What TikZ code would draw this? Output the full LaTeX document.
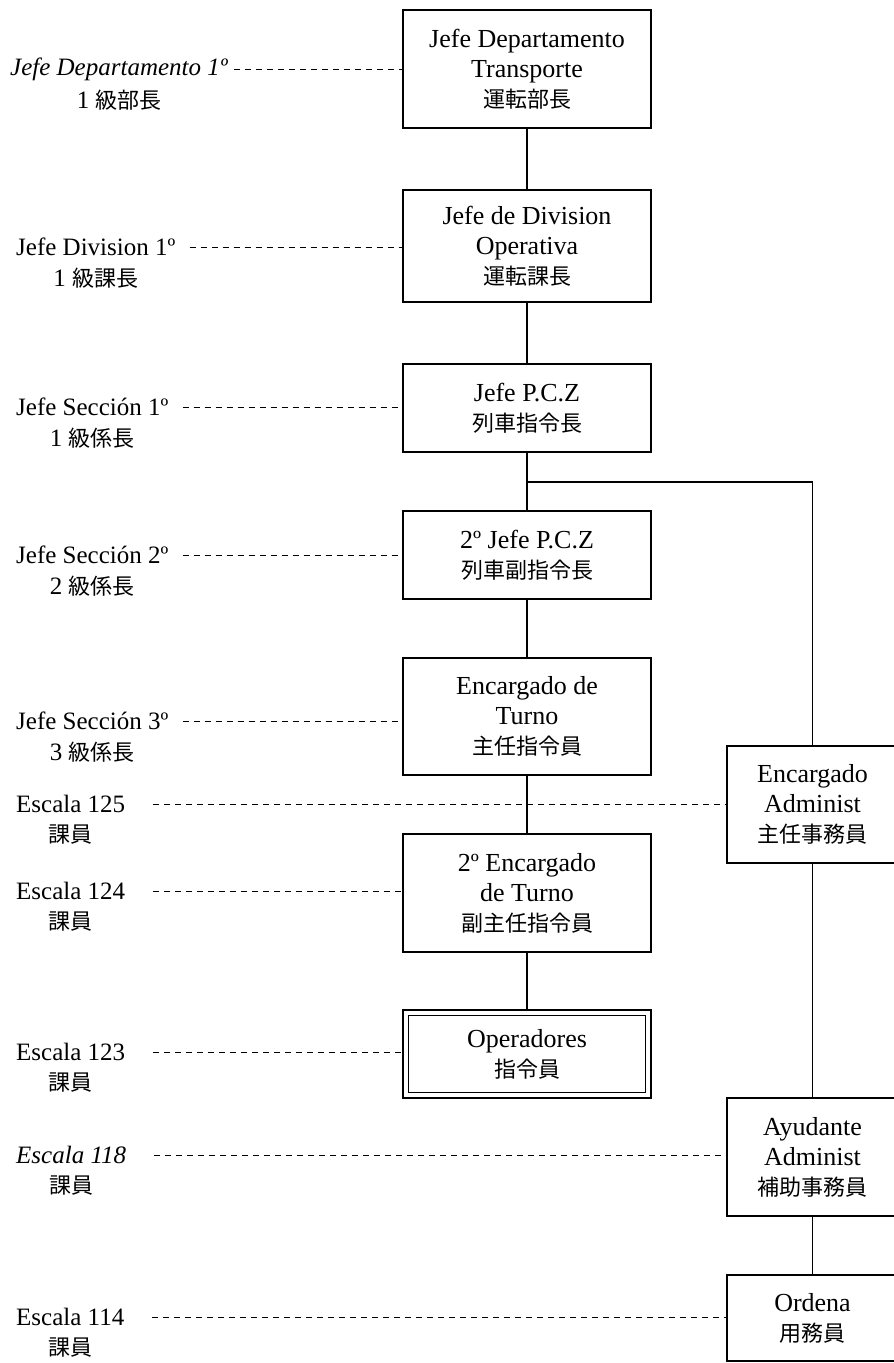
\documentclass[tikz,border=0pt]{standalone}
\usepackage{fontspec}
\setmainfont{Liberation Serif}
\newfontfamily\cjk{Noto Sans CJK JP}
\newcommand{\jp}[1]{{\cjk\fontsize{22}{30}\selectfont #1}}
\begin{document}
\begin{tikzpicture}[x=1pt,y=-1pt,
  box/.style={draw, line width=1.3pt, align=center, inner sep=0pt,
    font=\fontsize{26}{30}\selectfont, minimum width=248pt},
  sbox/.style={box, minimum width=171pt},
  lbl/.style={inner sep=0pt, font=\fontsize{25}{30}\selectfont},
  dline/.style={line width=0.9pt, dash pattern=on 6pt off 5pt},
  conn/.style={line width=1.3pt}]
\clip (0,0) rectangle (894,1363);
\fill[white] (0,0) rectangle (894,1363);
% main column
\node[box, minimum height=118pt] (b1) at (527,69) {Jefe Departamento\\Transporte\\\jp{運転部長}};
\node[box, minimum height=112pt] (b2) at (527,246) {Jefe de Division\\Operativa\\\jp{運転課長}};
\node[box, minimum height=88pt] (b3) at (527,408) {Jefe P.C.Z\\\jp{列車指令長}};
\node[box, minimum height=88pt] (b4) at (527,555) {2º Jefe P.C.Z\\\jp{列車副指令長}};
\node[box, minimum height=117pt] (b5) at (527,716.5) {Encargado de\\Turno\\\jp{主任指令員}};
\node[box, minimum height=118pt] (b6) at (527,893) {2º Encargado\\de Turno\\\jp{副主任指令員}};
\node[box, minimum height=88pt] (b7) at (527,1054) {Operadores\\\jp{指令員}};
\draw[line width=1.3pt] ([shift={(6,6)}]b7.north west) rectangle ([shift={(-6,-6)}]b7.south east);
% right column
\node[sbox, minimum height=117pt] (b8) at (812.5,804.5) {Encargado\\Administ\\\jp{主任事務員}};
\node[sbox, minimum height=118pt] (b9) at (812.5,1157) {Ayudante\\Administ\\\jp{補助事務員}};
\node[sbox, minimum height=86pt] (b10) at (812.5,1318) {Ordena\\\jp{用務員}};
% connectors
\draw[conn] (b1) -- (b2);
\draw[conn] (b2) -- (b3);
\draw[conn] (b3) -- (b4);
\draw[conn] (b4) -- (b5);
\draw[conn] (b5) -- (b6);
\draw[conn] (b6) -- (b7);
\coordinate (br) at (527,482);
\draw[conn] (br) -| (b8.north);
\draw[conn] (b8) -- (b9);
\draw[conn] (b9) -- (b10);
% labels
\node[lbl, anchor=west] (l1) at (10,69) {\textit{Jefe Departamento 1º}};
\node[lbl] (l1b) at ([yshift=-31pt]l1.center) {1 \jp{級部長}};
\node[lbl, anchor=west] (l2) at (16,247) {Jefe Division 1º};
\node[lbl] (l2b) at ([yshift=-31pt]l2.center) {1 \jp{級課長}};
\node[lbl, anchor=west] (l3) at (16,407) {Jefe Sección 1º};
\node[lbl] (l3b) at ([yshift=-31pt]l3.center) {1 \jp{級係長}};
\node[lbl, anchor=west] (l4) at (16,555) {Jefe Sección 2º};
\node[lbl] (l4b) at ([yshift=-31pt]l4.center) {2 \jp{級係長}};
\node[lbl, anchor=west] (l5) at (16,721) {Jefe Sección 3º};
\node[lbl] (l5b) at ([yshift=-31pt]l5.center) {3 \jp{級係長}};
\node[lbl, anchor=west] (l6) at (16,804) {Escala 125};
\node[lbl] (l6b) at ([yshift=-31pt]l6.center) {\jp{課員}};
\node[lbl, anchor=west] (l7) at (16,891) {Escala 124};
\node[lbl] (l7b) at ([yshift=-31pt]l7.center) {\jp{課員}};
\node[lbl, anchor=west] (l8) at (16,1052) {Escala 123};
\node[lbl] (l8b) at ([yshift=-31pt]l8.center) {\jp{課員}};
\node[lbl, anchor=west] (l9) at (16,1155) {\textit{Escala 118}};
\node[lbl] (l9b) at ([yshift=-31pt]l9.center) {\jp{課員}};
\node[lbl, anchor=west] (l10) at (16,1317) {Escala 114};
\node[lbl] (l10b) at ([yshift=-31pt]l10.center) {\jp{課員}};
% dashed leaders
\draw[dline] ([xshift=6pt]l1.east) -- (l1.east -| b1.west);
\draw[dline] ([xshift=14pt]l2.east) -- (l2.east -| b2.west);
\draw[dline] ([xshift=14pt]l3.east) -- (l3.east -| b3.west);
\draw[dline] ([xshift=14pt]l4.east) -- (l4.east -| b4.west);
\draw[dline] ([xshift=14pt]l5.east) -- (l5.east -| b5.west);
\draw[dline] ([xshift=28pt]l6.east) -- (l6.east -| b8.west);
\draw[dline] ([xshift=28pt]l7.east) -- (l7.east -| b6.west);
\draw[dline] ([xshift=28pt]l8.east) -- (l8.east -| b7.west);
\draw[dline] ([xshift=28pt]l9.east) -- (l9.east -| b9.west);
\draw[dline] ([xshift=28pt]l10.east) -- (l10.east -| b10.west);
\end{tikzpicture}
\end{document}
